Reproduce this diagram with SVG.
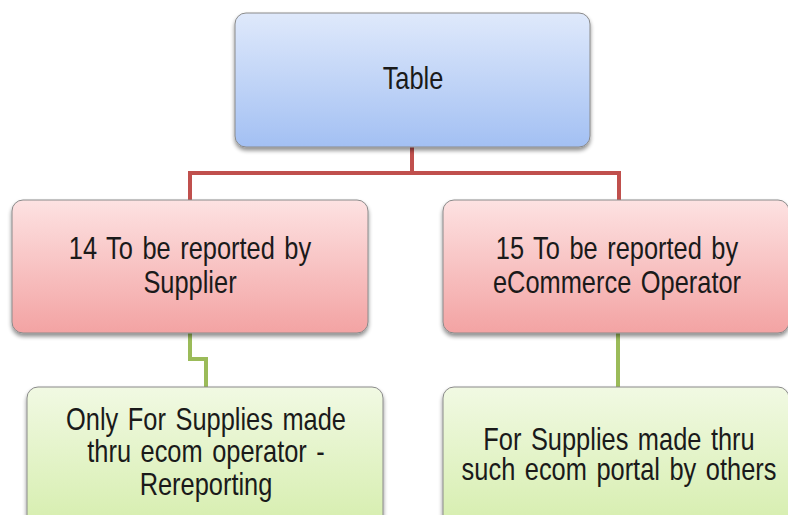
<svg xmlns="http://www.w3.org/2000/svg" width="788" height="515" viewBox="0 0 788 515">
  <defs>
    <linearGradient id="gBlue" x1="0" y1="0" x2="0" y2="1">
      <stop offset="0" stop-color="#dfe9fb"/>
      <stop offset="1" stop-color="#a3c0f3"/>
    </linearGradient>
    <linearGradient id="gRed" x1="0" y1="0" x2="0" y2="1">
      <stop offset="0" stop-color="#fde2e2"/>
      <stop offset="1" stop-color="#f3a3a3"/>
    </linearGradient>
    <linearGradient id="gGreen" x1="0" y1="0" x2="0" y2="1">
      <stop offset="0" stop-color="#f1f9e3"/>
      <stop offset="1" stop-color="#d6eeae"/>
    </linearGradient>
    <filter id="shadow" x="-10%" y="-10%" width="120%" height="130%">
      <feGaussianBlur in="SourceAlpha" stdDeviation="2"/>
      <feOffset dx="0" dy="3" result="b"/>
      <feComponentTransfer><feFuncA type="linear" slope="0.45"/></feComponentTransfer>
      <feMerge><feMergeNode/><feMergeNode in="SourceGraphic"/></feMerge>
    </filter>
  </defs>
  <style>
    .box { stroke: #8a8a8a; stroke-width: 1; filter: url(#shadow); }
    .t { font-family: "Liberation Sans", Arial, sans-serif; font-size: 31px; fill: #1a1a1a; text-anchor: middle; word-spacing: 3px; }
    .red { fill: none; stroke: #c0504d; stroke-width: 4; }
    .green { fill: none; stroke: #9bbb59; stroke-width: 4; }
  </style>
  <rect width="788" height="515" fill="#ffffff"/>

  <g id="connectors">
    <path class="red" d="M412,146 V173 M190,173 H619 M190,171 V200 M619,171 V200"/>
    <path class="green" d="M190,333 V359 H206 V387"/>
    <path class="green" d="M618,333 V387"/>
  </g>

  <g id="node-table">
    <rect class="box" x="235" y="13" width="355" height="134" rx="11" fill="url(#gBlue)"/>
    <text class="t" transform="matrix(0.82 0 0 1 413 0)" x="0" y="89">Table</text>
  </g>

  <g id="node-14">
    <rect class="box" x="12" y="200" width="356" height="133" rx="11" fill="url(#gRed)"/>
    <text class="t" transform="matrix(0.82 0 0 1 190 0)" x="0" y="259">14 To be reported by</text>
    <text class="t" transform="matrix(0.82 0 0 1 190 0)" x="0" y="293">Supplier</text>
  </g>

  <g id="node-15">
    <rect class="box" x="443" y="200" width="346" height="133" rx="11" fill="url(#gRed)"/>
    <text class="t" transform="matrix(0.82 0 0 1 617 0)" x="0" y="259">15 To be reported by</text>
    <text class="t" transform="matrix(0.82 0 0 1 617 0)" x="0" y="293">eCommerce Operator</text>
  </g>

  <g id="node-only">
    <rect class="box" x="27" y="387" width="356" height="140" rx="11" fill="url(#gGreen)"/>
    <text class="t" transform="matrix(0.82 0 0 1 206 0)" x="0" y="430">Only For Supplies made</text>
    <text class="t" transform="matrix(0.82 0 0 1 206 0)" x="0" y="462">thru ecom operator -</text>
    <text class="t" transform="matrix(0.82 0 0 1 206 0)" x="0" y="495">Rereporting</text>
  </g>

  <g id="node-for">
    <rect class="box" x="443" y="387" width="346" height="140" rx="11" fill="url(#gGreen)"/>
    <text class="t" transform="matrix(0.82 0 0 1 619 0)" x="0" y="450">For Supplies made thru</text>
    <text class="t" transform="matrix(0.82 0 0 1 619 0)" x="0" y="480">such ecom portal by others</text>
  </g>
</svg>
